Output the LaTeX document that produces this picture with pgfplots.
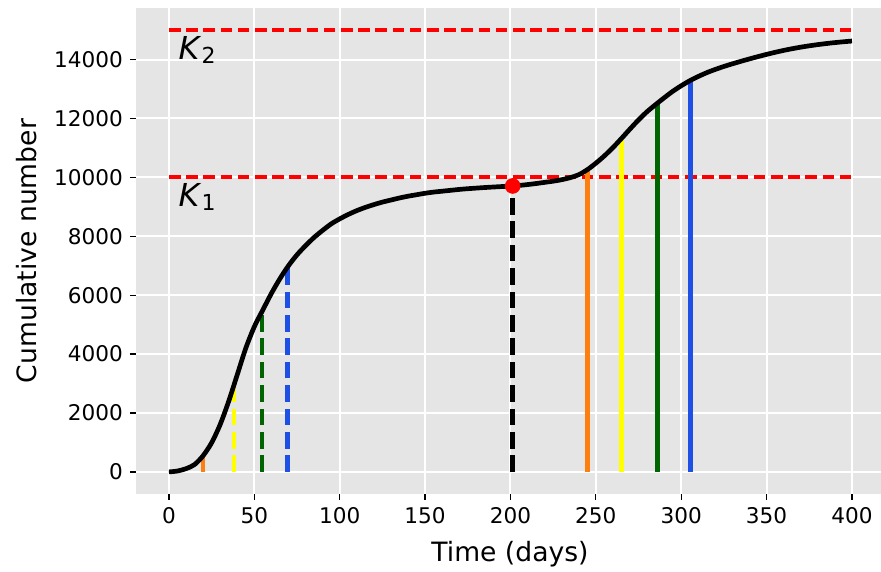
\documentclass[border=0pt]{standalone}
\usepackage{pgfplots}
\pgfplotsset{compat=1.18}
\usepackage{fontspec}
\setmainfont{DejaVu Sans}

\definecolor{bggray}{HTML}{E5E5E5}
\definecolor{lorange}{HTML}{FF7F0E}
\definecolor{lyellow}{HTML}{FFFF00}
\definecolor{lgreen}{HTML}{006400}
\definecolor{lblue}{HTML}{1F50E6}

\pgfplotsset{
  vdash/.style={line width=2.2pt, dash pattern=on 8.3pt off 3.4pt},
  vsolid/.style={line width=2.2pt},
}

\begin{document}
\begin{tikzpicture}
\begin{axis}[
  scale only axis,
  width=372.5pt, height=243pt,
  xmin=-19.3, xmax=417,
  ymin=-750, ymax=15750,
  xtick={0,50,...,400},
  ytick={0,2000,...,14000},
  scaled y ticks=false,
  /pgf/number format/1000 sep={},
  /pgf/number format/assume math mode=true,
  axis background/.style={fill=bggray},
  axis line style={draw=none},
  grid=major,
  major grid style={white, line width=1pt},
  tick align=outside,
  tick pos=left,
  major tick length=3pt,
  tick style={black, line width=0.6pt},
  ticklabel style={font=\fontsize{10.8}{13}\selectfont},
  xlabel={Time (days)},
  ylabel={Cumulative number},
  label style={font=\fontsize{13.3}{16}\selectfont},
  xlabel style={at={(axis description cs:0.502,-0.139)}, anchor=base},
  ylabel style={at={(axis description cs:-0.134,0.5)}, anchor=base},
]
% carrying capacities
\addplot[red, line width=2pt, dash pattern=on 5.8pt off 2.8pt] coordinates {(0,15000) (400,15000)};
\addplot[red, line width=2pt, dash pattern=on 5.8pt off 2.8pt] coordinates {(0,10000) (400,10000)};

% first wave markers (dashed)
\addplot[lorange, vdash] coordinates {(20,0) (20,550)};
\addplot[lyellow, vdash] coordinates {(38,0) (38,2940)};
\addplot[lgreen, vdash] coordinates {(54.5,0) (54.5,5445)};
\addplot[lblue, vdash] coordinates {(69.5,0) (69.5,6955)};
\addplot[black, vdash] coordinates {(201.3,0) (201.3,9708)};

% second wave markers (solid)
\addplot[lorange, vsolid] coordinates {(245,0) (245,10260)};
\addplot[lyellow, vsolid] coordinates {(265,0) (265,11320)};
\addplot[lgreen, vsolid] coordinates {(286,0) (286,12516)};
\addplot[lblue, vsolid] coordinates {(305.5,0) (305.5,13295)};

% cumulative curve
\addplot[black, line width=2.35pt, smooth, tension=0.5] coordinates {
  (0,0) (5,30) (10,110) (15,250) (20,550) (25,990) (30,1610) (35,2400)
  (40,3300) (45,4200) (50,4930) (55,5500) (60,6060) (65,6560) (70,7000)
  (75,7370) (80,7680) (85,7960) (90,8200) (95,8420) (100,8590) (105,8740)
  (110,8870) (115,8980) (120,9075) (125,9160) (130,9230) (135,9300)
  (140,9360) (145,9410) (150,9460) (155,9500) (160,9530) (165,9560)
  (170,9590) (175,9615) (180,9635) (185,9655) (190,9672) (195,9688)
  (200,9702) (205,9725) (210,9755) (215,9790) (220,9830) (225,9870)
  (230,9920) (235,9990) (240,10090) (245,10260) (250,10480) (255,10730)
  (260,11010) (265,11320) (270,11640) (275,11950) (280,12230) (285,12470)
  (290,12700) (295,12920) (300,13110) (305,13280) (310,13425) (315,13555)
  (320,13665) (325,13765) (330,13855) (335,13940) (340,14022) (345,14100)
  (350,14175) (355,14245) (360,14310) (365,14368) (370,14420) (375,14466)
  (380,14507) (385,14543) (390,14575) (395,14603) (400,14628)
};

% switch point
\addplot[only marks, mark=*, mark size=3.7pt, red] coordinates {(201.3,9708)};

\node[anchor=base west, inner sep=0pt, font=\fontsize{15.8}{18}\selectfont]
  at (axis cs:5.5,14000) {\textit{K}\raisebox{-2pt}{\fontsize{11}{13}\selectfont 2}};
\node[anchor=base west, inner sep=0pt, font=\fontsize{15.8}{18}\selectfont]
  at (axis cs:5.5,9000) {\textit{K}\raisebox{-2pt}{\fontsize{11}{13}\selectfont 1}};
\end{axis}
\pgfresetboundingbox
\path[use as bounding box] ([xshift=-68pt,yshift=-39pt]current axis.south west)
  rectangle ([yshift=4pt]current axis.north east);
\end{tikzpicture}
\end{document}
